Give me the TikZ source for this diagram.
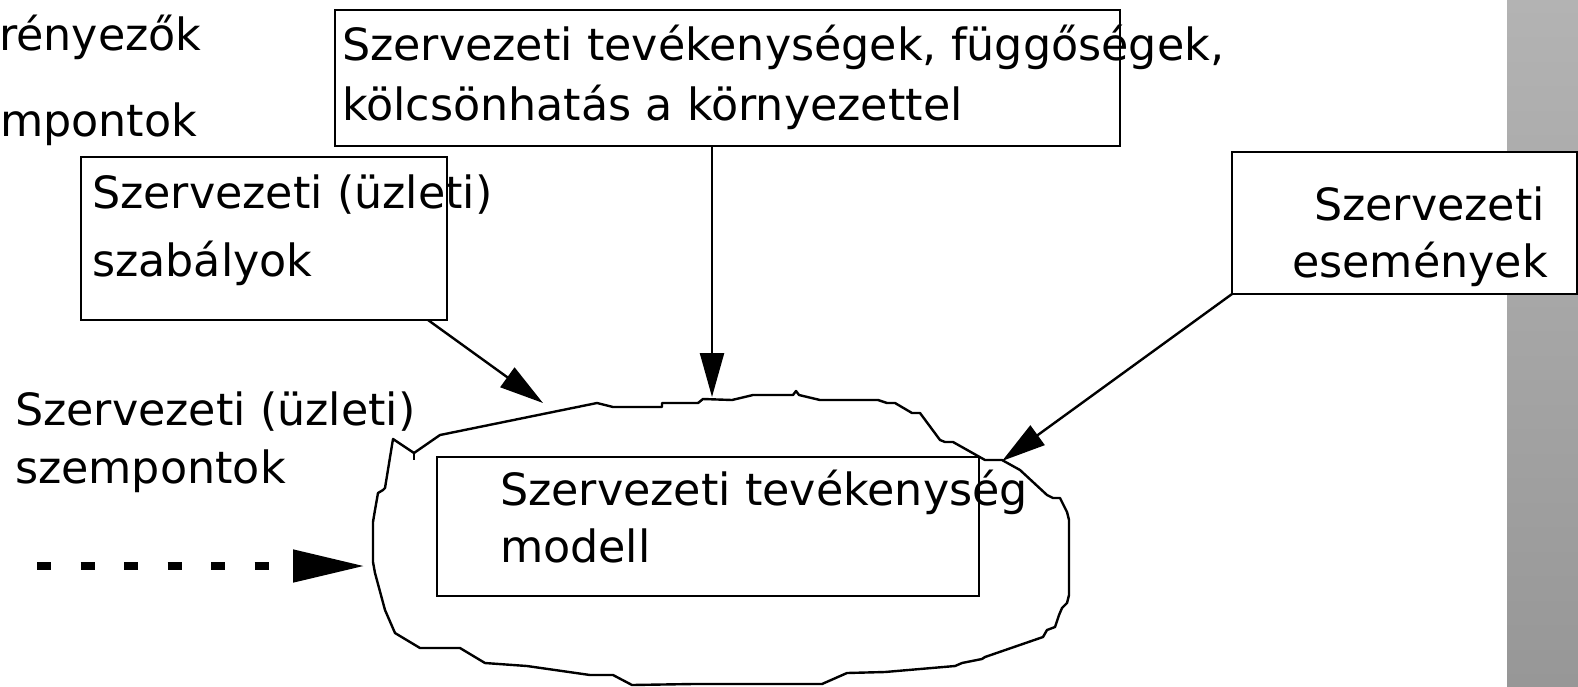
\documentclass[tikz,border=0pt]{standalone}
\usepackage{fontspec}
\setmainfont{DejaVu Sans}
\usetikzlibrary{arrows.meta,calc}
\definecolor{stripetop}{HTML}{B3B3B3}
\definecolor{stripebot}{HTML}{979797}
\begin{document}
\begin{tikzpicture}[x=1pt,y=-1pt,
  every node/.style={font=\fontsize{44.4}{57}\selectfont, inner sep=0pt, outer sep=0pt},
  box/.style={draw, line width=2.4pt, fill=white, anchor=north west},
  txt/.style={anchor=base west},
  txtr/.style={anchor=base east},
  conn/.style={line width=2.4pt, -{Triangle[length=44pt,width=24pt]}},
  blob/.style={line width=2.4pt, line join=round},
]
\useasboundingbox (0,0) rectangle (1578,686);
\shade[top color=stripetop, bottom color=stripebot] (1507,0) rectangle (1578,686);

% boxes
\node[box, minimum width=785pt, minimum height=136pt] (topbox) at (335,10) {};
\node[box, minimum width=366pt, minimum height=163pt] (leftbox) at (81,157) {};
\node[box, minimum width=345pt, minimum height=142pt] (rightbox) at (1232,152) {};

% blob
\draw[blob] (393,439) -- (414,453) -- (440,435) -- (597,403) -- (613,407) -- (662,407) -- (662,403)
  -- (698,403) -- (703,399) -- (732,400) -- (753,395) -- (793,395) -- (796,391) -- (799,395)
  -- (820,400) -- (878,400) -- (887,403) -- (895,403) -- (912,413) -- (920,413) -- (940,440)
  -- (945,442) -- (953,442) -- (985,460) -- (1002,460) -- (1020,470) -- (1047,495) -- (1053,498)
  -- (1060,498) -- (1067,512) -- (1069,520) -- (1069,595) -- (1067,603) -- (1062,608) -- (1059,615)
  -- (1055,627) -- (1047,630) -- (1043,637) -- (985,657) -- (982,659) -- (962,663) -- (955,666)
  -- (885,672) -- (847,673) -- (822,684) -- (693,684) -- (632,685) -- (613,675) -- (590,675)
  -- (527,666) -- (485,663) -- (460,648) -- (420,648) -- (395,633) -- (385,610) -- (375,573)
  -- (373,562) -- (373,522) -- (375,510) -- (378,493) -- (383,490) -- (385,488) -- cycle;
\draw[blob] (414,453) -- (414,460);

\node[box, minimum width=542pt, minimum height=139pt, fill=none] (inner) at (437,457) {};

% texts
\node[txt] (t1) at (-1,50) {rényezők};
\node[txt] (t2) at (0,136) {mpontok};
\node[txt] (top1) at (342,60) {Szervezeti tevékenységek, függőségek,};
\node[txt] (top2) at (342,120) {kölcsönhatás a környezettel};
\node[txt] (lb1) at (92,208) {Szervezeti (üzleti)};
\node[txt] (lb2) at (92,276) {szabályok};
\node[txtr] (rb1) at (1545,220) {Szervezeti};
\node[txtr] (rb2) at (1548,277) {események};
\node[txt] (ft1) at (15,425) {Szervezeti (üzleti)};
\node[txt] (ft2) at (15,483) {szempontok};
\node[txt] (in1) at (500,505) {Szervezeti tevékenység};
\node[txt] (in2) at (500,562) {modell};

% connectors
\coordinate (a1) at (712,397);
\coordinate (a2) at (543,403);
\coordinate (a3) at (1002,461);
\coordinate (a4) at (365,566);
\coordinate (d0) at (37,566);
\draw[conn] (topbox.south -| a1) -- (a1);
\draw[conn] ($(leftbox.south east)+(-19,0)$) -- (a2);
\draw[conn] (rightbox.south west) -- (a3);
\draw[line width=8pt, dash pattern=on 14pt off 29.5pt, -{Triangle[length=72pt,width=31pt]}] (d0) -- (a4);
\end{tikzpicture}
\end{document}
